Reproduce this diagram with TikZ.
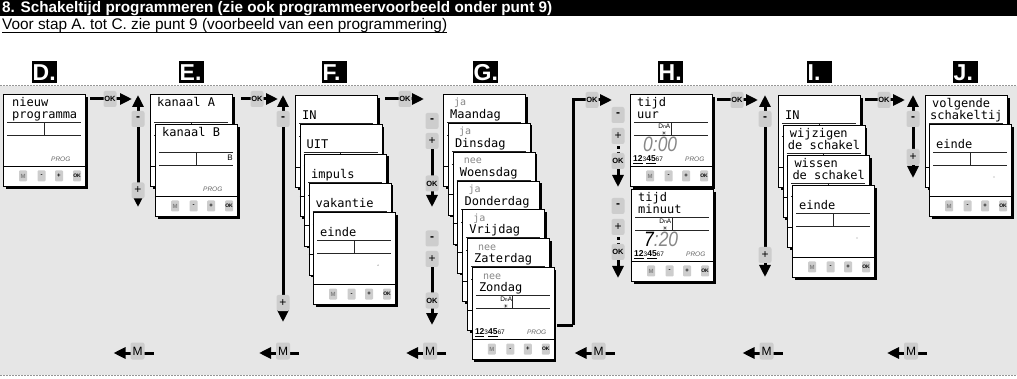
\documentclass[tikz,border=0pt]{standalone}
\usepackage{fontspec}
\usepackage{graphicx}
\setmainfont{Liberation Sans}
\newfontfamily\lcdfont{DejaVu Sans Mono}
\newfontfamily\symfont{DejaVu Sans}
\usetikzlibrary{arrows.meta,calc}
\definecolor{bggray}{RGB}{230,230,230}
\definecolor{btngray}{RGB}{205,205,205}
\definecolor{dotgray}{RGB}{150,150,150}
\definecolor{lcdgray}{RGB}{135,135,135}
\tikzset{
 bigarrow/.style={line width=3pt,-{Triangle[length=12pt,width=11pt]}},
 bigdarrow/.style={line width=3pt,{Triangle[length=12pt,width=11pt]}-{Triangle[length=12pt,width=11pt]}},
 abtn/.style={fill=btngray, rounded corners=2pt, minimum width=13pt, minimum height=16pt, inner sep=0pt, font=\fontsize{12}{12}\selectfont},
 okbtn/.style={abtn, font=\fontsize{7.5}{7.5}\selectfont\bfseries},
 mbtn/.style={abtn, minimum width=14pt, minimum height=17pt, font=\fontsize{12}{12}\selectfont},
 scrbox/.style={draw=black, line width=0.8pt, fill=white, minimum width=82pt, minimum height=92pt, anchor=north west, inner sep=0pt},
 sbtn/.style={fill=btngray, rounded corners=1pt, minimum width=8pt, minimum height=11pt, inner sep=0pt, font=\fontsize{6}{6}\selectfont\bfseries},
 lcdtxt/.style={anchor=base west, inner sep=0pt, font=\lcdfont\fontsize{12}{12}\selectfont},
 lcdsmall/.style={anchor=base west, inner sep=0pt, text=lcdgray, font=\lcdfont\fontsize{10}{10}\selectfont},
 lcdline/.style={line width=0.9pt, black!85},
 progtxt/.style={anchor=base west, inner sep=0pt, text=black!60, font=\fontsize{6.5}{6.5}\selectfont\itshape},
 lbl/.style={anchor=west, fill=black, text=white, text width=24pt, align=left, inner sep=0.5pt, minimum height=22pt, text height=16.5pt, text depth=0pt, font=\fontsize{23}{23}\selectfont\bfseries},
 dotline/.style={dotgray, line width=1pt, dash pattern=on 1.5pt off 1.5pt},
}
\newcommand\scr[3]{\def\scrN{#1}\def\scrX{#2}\def\scrY{#3}%
  \fill[black] (\scrX+2.6,\scrY+2.6) rectangle ++(82,92);%
  \node[scrbox] (\scrN) at (\scrX,\scrY) {};}
\newcommand\Lone[2][7]{\node[lcdtxt] (\scrN-a) at (\scrX+#1,\scrY+13) {#2};}
\newcommand\Ltwo[2][7]{\node[lcdtxt] (\scrN-b) at (\scrX+#1,\scrY+24.5) {#2};}
\newcommand\Lgray[1]{\node[lcdsmall] (\scrN-g) at (\scrX+11,\scrY+12) {#1};}
\newcommand\Grid{%
 \draw[lcdline] (\scrX+4,\scrY+28.5) -- (\scrX+78,\scrY+28.5);
 \draw[lcdline] (\scrX+4,\scrY+41.5) -- (\scrX+78,\scrY+41.5);
 \draw[lcdline] (\scrX+41,\scrY+28.5) -- (\scrX+41,\scrY+41.5);
 \draw[line width=0.8pt] (\scrX,\scrY+72) -- (\scrX+82,\scrY+72);}
\newcommand\Btns{%
 \node[sbtn,text=black!50] (\scrN-m) at (\scrX+20,\scrY+82) {M};
 \node[sbtn] (\scrN-mi) at (\scrX+38.5,\scrY+82) {-};
 \node[sbtn] (\scrN-pl) at (\scrX+56,\scrY+82) {+};
 \node[sbtn] (\scrN-ok) at (\scrX+74,\scrY+82) {\fontsize{5}{5}\selectfont OK};}
\newcommand\Prog{\node[progtxt] (\scrN-p) at (\scrX+48,\scrY+68) {PROG};}
\newcommand\Dot{\fill[black!45] (\scrX+65,\scrY+53) circle (0.7pt);}
\newcommand\DnA{%
 \node[inner sep=0pt, font=\fontsize{6.5}{6.5}\selectfont, anchor=base east] (\scrN-dna) at (\scrX+40.5,\scrY+34.5) {D{\fontsize{5}{5}\selectfont n}A};
 \node[inner sep=0pt, font=\symfont\fontsize{5.5}{5.5}\selectfont] (\scrN-sun) at (\scrX+34,\scrY+39) {☀};}
\newcommand\Days{%
 \node[anchor=base west, inner sep=0pt, font=\fontsize{8.5}{8.5}\selectfont\bfseries] (\scrN-days) at (\scrX+3,\scrY+67.5) {\underline{1}\underline{2}{\fontsize{6.5}{6.5}\selectfont\mdseries 3}\underline{4}\underline{5}{\fontsize{6.5}{6.5}\selectfont\mdseries 67}};
 \node[progtxt] (\scrN-p) at (\scrX+55,\scrY+67.5) {PROG};}
\newcommand\Digits[1]{\node[anchor=south west, inner sep=0pt] (\scrN-dig) at (\scrX+13,\scrY+57.5) {\resizebox{34pt}{14.5pt}{\itshape #1}};}
\begin{document}
\begin{tikzpicture}[x=1pt,y=-1pt]
\useasboundingbox (0,0) rectangle (1017,379);
% header
\fill[black] (0,0) rectangle (1017,16.5);
\node[anchor=base west, inner sep=0pt, text=white] (title) at (2,12.8) {\resizebox{550pt}{!}{\bfseries 8. Schakeltijd programmeren (zie ook programmeervoorbeeld onder punt 9)}};
\node[anchor=base west, inner sep=0pt] (subtitle) at (2,30) {\resizebox{445pt}{!}{Voor stap A. tot C. zie punt 9 (voorbeeld van een programmering)}};
\draw[line width=1pt] ($(subtitle.base west)+(0,2.4)$) -- ($(subtitle.base east)+(0,2.4)$);
% background band
\fill[bggray] (0,86) rectangle (1017,375);
\draw[dotline] (0,86) -- (1017,86);
\draw[dotline] (0,375) -- (1017,375);
% step labels
\node[lbl] (lblD) at (32,72) {D.};
\node[lbl] (lblE) at (179,72) {E.};
\node[lbl] (lblF) at (322,72) {F.};
\node[lbl] (lblG) at (473,72) {G.};
\node[lbl] (lblH) at (658,72) {H.};
\node[lbl] (lblI) at (807,72) {I.};
\node[lbl] (lblJ) at (953,72) {J.};
% ---------- D
\scr{scrD}{3}{94}\Lone[9]{nieuw}\Ltwo[9]{programma}\Grid\Btns\Prog
% ---------- E
\scr{scrE1}{150}{94}\Lone{kanaal A}\Grid
\scr{scrE2}{155}{124}\Lone{kanaal B}\Grid\Btns\Prog
\node[inner sep=0pt, anchor=base, font=\fontsize{8}{8}\selectfont] (scrE2-B) at (\scrX+75,\scrY+37) {B};
% ---------- F
\scr{scrF1}{295}{95}\Ltwo{IN}\Grid
\scr{scrF2}{299.5}{124.3}\Ltwo{UIT}\Grid
\scr{scrF3}{304}{153.6}\Ltwo{impuls}\Grid
\scr{scrF4}{308.5}{182.9}\Ltwo{vakantie}\Grid
\scr{scrF5}{313}{212.2}\Ltwo{einde}\Grid\Btns\Dot
% ---------- G
\scr{scrG1}{443}{94}\Lgray{ja}\Ltwo{Maandag}\Grid
\scr{scrG2}{447.8}{122.85}\Lgray{ja}\Ltwo{Dinsdag}\Grid
\scr{scrG3}{452.6}{151.7}\Lgray{nee}\Ltwo{Woensdag}\Grid
\scr{scrG4}{457.4}{180.55}\Lgray{ja}\Ltwo{Donderdag}\Grid
\scr{scrG5}{462.2}{209.4}\Lgray{ja}\Ltwo{Vrijdag}\Grid
\scr{scrG6}{467}{238.25}\Lgray{nee}\Ltwo{Zaterdag}\Grid
\scr{scrG7}{471.8}{267.1}\Lgray{nee}\Ltwo{Zondag}\Grid\Btns\DnA\Days
% ---------- H
\scr{scrH1}{630}{94}\Lone{tijd}\Ltwo{uur}\Grid\Btns\DnA\Days\Digits{\color{lcdgray}0:00}
\scr{scrH2}{631}{189}\Lone{tijd}\Ltwo{minuut}\Grid\Btns\DnA\Days\Digits{7\color{lcdgray}:20}
% ---------- I
\scr{scrI1}{778}{95}\Ltwo{IN}\Grid
\scr{scrI2}{782.7}{125}\Lone{wijzigen}\Ltwo[5]{de schakel}\Grid
\scr{scrI3}{787.3}{155}\Lone{wissen}\Ltwo[5]{de schakel}\Grid
\scr{scrI4}{792}{185}\Ltwo{einde}\Grid\Btns\Dot
% ---------- J
\scr{scrJ1}{925}{95}\Lone{volgende}\Ltwo[5]{schakeltij}\Grid
\scr{scrJ2}{929}{124}\Ltwo{einde}\Grid\Btns\Dot
% ---------- connectors
% D -> E
\coordinate (de0) at (90,99); \coordinate (de1) at (132,99);
\draw[bigarrow] (de0) -- (de1);
\node[okbtn] (okDE) at (110,99) {OK};
\coordinate (eT) at (138,95); \coordinate (eB) at (138,207);
\draw[bigdarrow] (eT) -- (eB);
\node[abtn] (eMi) at (138,119) {\textbf{-}};
\node[abtn] (ePl) at (138,190.5) {+};
% E -> F
\coordinate (ef0) at (241,99); \coordinate (ef1) at (278,99);
\draw[bigarrow] (ef0) -- (ef1);
\node[okbtn] (okEF) at (257,99) {OK};
\coordinate (fT) at (283,95); \coordinate (fB) at (283,322);
\draw[bigdarrow] (fT) -- (fB);
\node[abtn] (fMi) at (283,119) {\textbf{-}};
\node[abtn] (fPl) at (283,303) {+};
% F -> G
\coordinate (fg0) at (385,99); \coordinate (fg1) at (424,99);
\draw[bigarrow] (fg0) -- (fg1);
\node[okbtn] (okFG) at (405,99) {OK};
\coordinate (g1a) at (432,141); \coordinate (g1b) at (432,207);
\draw[bigarrow] (g1a) -- (g1b);
\node[abtn] (g1Mi) at (432,121) {\textbf{-}};
\node[abtn] (g1Pl) at (432,141) {+};
\node[okbtn] (g1Ok) at (432,183.5) {OK};
\coordinate (g2a) at (432,259); \coordinate (g2b) at (432,325);
\draw[bigarrow] (g2a) -- (g2b);
\node[abtn] (g2Mi) at (432,238.5) {\textbf{-}};
\node[abtn] (g2Pl) at (432,259) {+};
\node[okbtn] (g2Ok) at (432,300.5) {OK};
% G -> H
\coordinate (gh0) at (557,325); \coordinate (gh1) at (573,325);
\coordinate (gh2) at (573,100); \coordinate (gh3) at (612,100);
\draw[line width=3pt] (gh0) -- (gh1);
\draw[bigarrow] (gh1) -- (gh2) -- (gh3);
\node[okbtn] (okGH) at (592,100) {OK};
\coordinate (h1a) at (618,152); \coordinate (h1b) at (618,187);
\draw[bigarrow] (h1a) -- (h1b);
\node[abtn] (h1Mi) at (618,115) {\textbf{-}};
\node[abtn] (h1Pl) at (618,136) {+};
\fill (616.5,146.5) rectangle (619.5,149.5);
\node[okbtn] (h1Ok) at (618,161) {OK};
\coordinate (h2a) at (618,243); \coordinate (h2b) at (618,278);
\draw[bigarrow] (h2a) -- (h2b);
\node[abtn] (h2Mi) at (618,206) {\textbf{-}};
\node[abtn] (h2Pl) at (618,227) {+};
\fill (616.5,237.5) rectangle (619.5,240.5);
\node[okbtn] (h2Ok) at (618,252) {OK};
% H -> I
\coordinate (hi0) at (717,100); \coordinate (hi1) at (758,100);
\draw[bigarrow] (hi0) -- (hi1);
\node[okbtn] (okHI) at (737,100) {OK};
\coordinate (iT) at (765,95); \coordinate (iB) at (765,277);
\draw[bigdarrow] (iT) -- (iB);
\node[abtn] (iMi) at (765,119) {\textbf{-}};
\node[abtn] (iPl) at (765,255) {+};
% I -> J
\coordinate (ij0) at (865,100); \coordinate (ij1) at (905,100);
\draw[bigarrow] (ij0) -- (ij1);
\node[okbtn] (okIJ) at (884,100) {OK};
\coordinate (jT) at (913,95); \coordinate (jB) at (913,178);
\draw[bigdarrow] (jT) -- (jB);
\node[abtn] (jMi) at (913,119) {\textbf{-}};
\node[abtn] (jPl) at (913,157) {+};
% bottom M returns
\foreach \cx/\nm in {137.5/m1, 283/m2, 430/m3, 598.5/m4, 766.5/m5, 911/m6}{
  \coordinate (\nm a) at (\cx+16,353); \coordinate (\nm b) at (\cx-24,353);
  \draw[bigarrow] (\nm a) -- (\nm b);
  \node[mbtn] (\nm) at (\cx,351) {M};
}
\end{tikzpicture}
\end{document}
